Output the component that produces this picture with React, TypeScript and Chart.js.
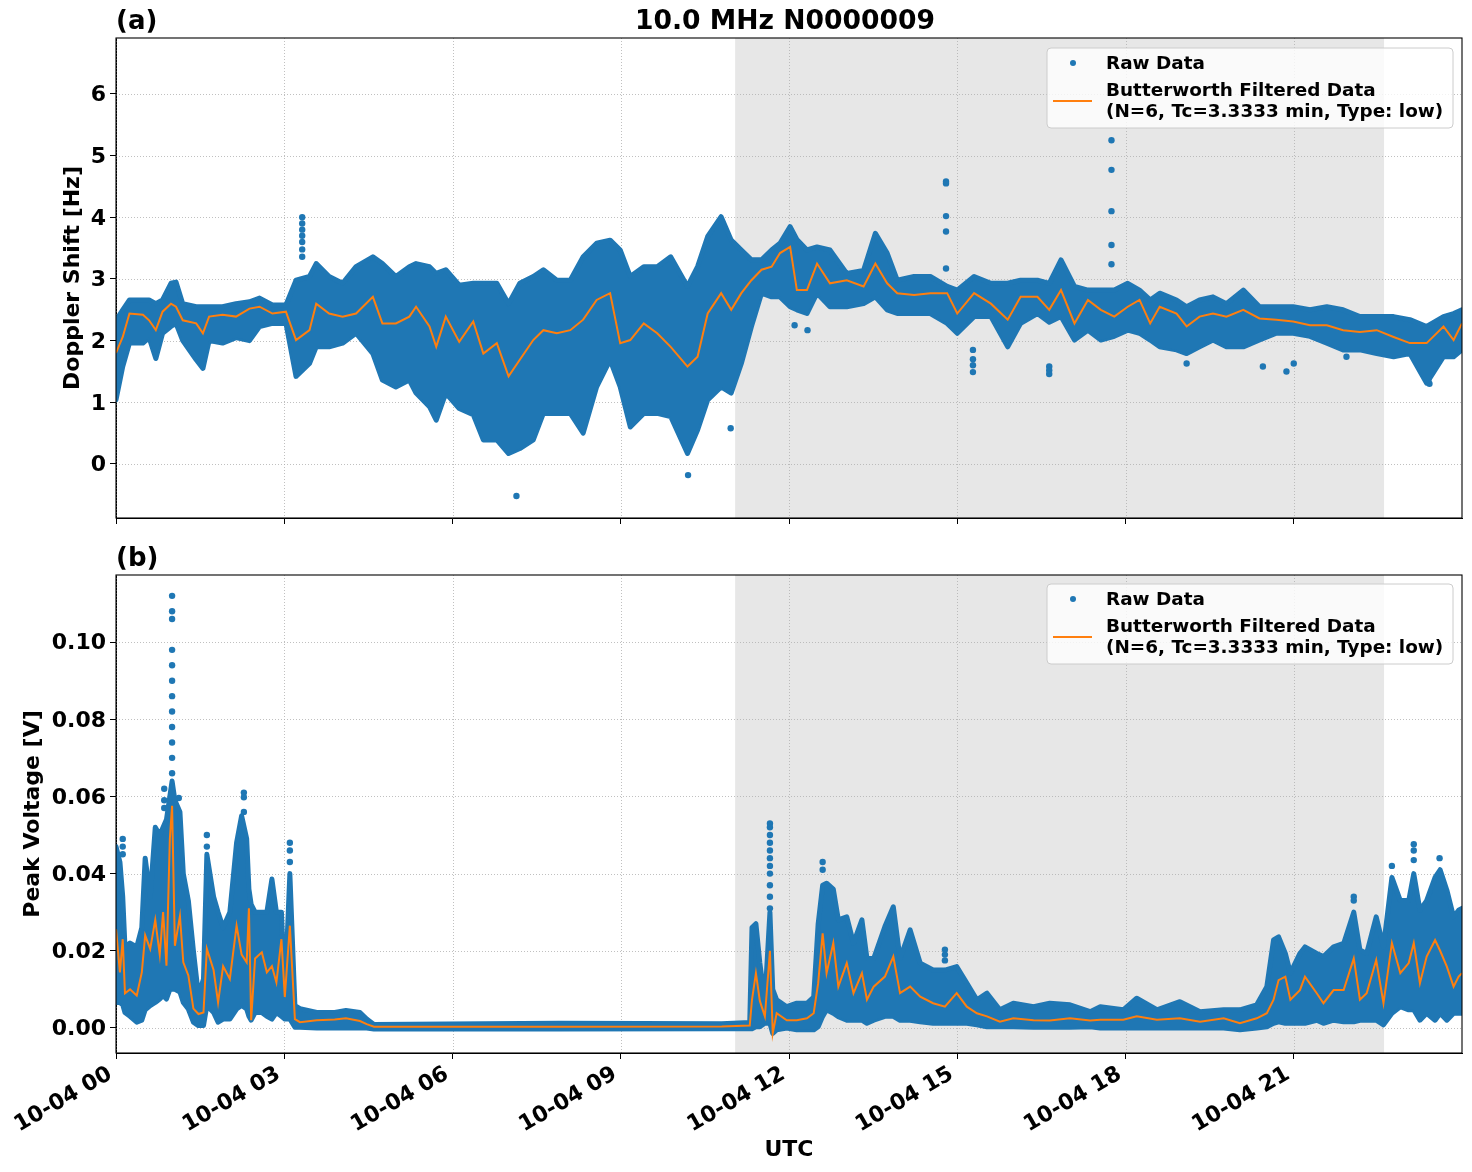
import React, { useEffect, useRef } from 'react';
import { Chart, registerables } from 'chart.js';

Chart.register(...registerables);

const FONT_FAMILY = '"DejaVu Sans", sans-serif';
const BLUE = '#1f77b4';
const ORANGE = '#ff7f0e';
const SHADE = '#e7e7e7';

// ---------- shared axis data ----------
const xTickHours = [0, 3, 6, 9, 12, 15, 18, 21];
const xTickLabels = ['10-04 00', '10-04 03', '10-04 06', '10-04 09', '10-04 12', '10-04 15', '10-04 18', '10-04 21'];
const daySpan = [11.04, 22.61];
const dopplerTicks = [0, 1, 2, 3, 4, 5, 6];
const voltageTicks = [0, 0.02, 0.04, 0.06, 0.08, 0.1];

// ---------- panel (a): Doppler shift [Hz] ----------
const dopplerHours = [
  0.00, 0.12, 0.24, 0.48, 0.59, 0.71, 0.83, 0.98, 1.07, 1.19,
  1.43, 1.55, 1.66, 1.90, 2.14, 2.38, 2.56, 2.79, 3.03, 3.21,
  3.45, 3.57, 3.80, 4.04, 4.28, 4.58, 4.75, 4.99, 5.23, 5.35,
  5.59, 5.71, 5.88, 6.12, 6.37, 6.55, 6.79, 7.00, 7.20, 7.44,
  7.62, 7.86, 8.10, 8.33, 8.57, 8.81, 8.99, 9.17, 9.41, 9.65,
  9.89, 10.19, 10.37, 10.55, 10.79, 10.97, 11.15, 11.33, 11.51, 11.69,
  11.84, 12.02, 12.14, 12.32, 12.50, 12.73, 13.03, 13.33, 13.54, 13.75,
  13.93, 14.23, 14.52, 14.82, 15.00, 15.30, 15.60, 15.90, 16.13, 16.43,
  16.64, 16.85, 17.09, 17.33, 17.56, 17.80, 18.04, 18.25, 18.44, 18.61,
  18.91, 19.09, 19.32, 19.56, 19.80, 20.10, 20.39, 20.69, 20.99, 21.29,
  21.59, 21.88, 22.18, 22.48, 22.78, 23.07, 23.37, 23.67, 23.85, 24.00,
];
const dopplerRawUpper = [
  2.33, 2.50, 2.66, 2.66, 2.66, 2.60, 2.66, 2.93, 2.95, 2.60,
  2.55, 2.55, 2.55, 2.55, 2.60, 2.63, 2.69, 2.58, 2.58, 2.98,
  3.04, 3.25, 3.04, 2.93, 3.20, 3.36, 3.25, 3.04, 3.20, 3.25,
  3.20, 3.09, 3.15, 2.90, 2.93, 2.93, 2.93, 2.60, 2.93, 3.04,
  3.15, 2.98, 2.98, 3.36, 3.58, 3.63, 3.47, 3.04, 3.20, 3.20,
  3.36, 2.88, 3.20, 3.69, 4.01, 3.63, 3.47, 3.31, 3.31, 3.47,
  3.58, 3.85, 3.64, 3.47, 3.52, 3.47, 3.09, 3.14, 3.74, 3.42,
  2.98, 3.04, 3.04, 2.88, 2.82, 3.04, 2.93, 2.93, 2.98, 2.98,
  2.93, 3.31, 2.88, 2.82, 2.82, 2.82, 2.93, 2.82, 2.66, 2.77,
  2.66, 2.55, 2.66, 2.71, 2.60, 2.82, 2.55, 2.55, 2.55, 2.50,
  2.55, 2.50, 2.39, 2.39, 2.39, 2.34, 2.23, 2.39, 2.44, 2.50,
];
const dopplerRawLower = [
  1.04, 1.58, 1.96, 1.96, 2.05, 1.71, 2.12, 2.23, 2.28, 2.00,
  1.69, 1.55, 2.00, 1.96, 2.05, 2.00, 2.23, 2.28, 2.28, 1.42,
  1.63, 1.90, 1.90, 1.96, 2.12, 1.79, 1.36, 1.25, 1.36, 1.15,
  0.93, 0.71, 1.15, 0.90, 0.80, 0.39, 0.39, 0.17, 0.25, 0.39,
  0.82, 0.82, 0.82, 0.50, 1.25, 1.69, 1.25, 0.60, 0.82, 0.82,
  0.77, 0.17, 0.55, 1.04, 1.25, 1.15, 1.63, 2.23, 2.77, 2.71,
  2.71, 2.55, 2.50, 2.44, 2.77, 2.55, 2.55, 2.60, 2.71, 2.50,
  2.44, 2.44, 2.44, 2.28, 2.12, 2.39, 2.39, 1.90, 2.28, 2.44,
  2.30, 2.39, 2.01, 2.17, 2.01, 2.07, 2.17, 2.12, 2.01, 1.90,
  1.85, 1.79, 1.90, 2.01, 1.90, 1.90, 2.01, 2.12, 2.12, 2.07,
  1.96, 1.85, 1.85, 1.79, 1.74, 1.79, 1.31, 1.74, 1.74, 1.85,
];
const dopplerFiltered = [
  1.80, 2.06, 2.44, 2.42, 2.33, 2.17, 2.47, 2.60, 2.55, 2.33,
  2.28, 2.12, 2.39, 2.42, 2.39, 2.52, 2.55, 2.44, 2.47, 2.01,
  2.17, 2.60, 2.44, 2.39, 2.44, 2.71, 2.28, 2.28, 2.39, 2.55,
  2.23, 1.90, 2.39, 1.98, 2.31, 1.79, 1.96, 1.42, 1.69, 2.01,
  2.17, 2.12, 2.17, 2.34, 2.66, 2.77, 1.96, 2.01, 2.28, 2.12,
  1.90, 1.58, 1.74, 2.44, 2.77, 2.50, 2.77, 2.98, 3.15, 3.20,
  3.42, 3.52, 2.82, 2.82, 3.25, 2.93, 2.98, 2.88, 3.25, 2.93,
  2.77, 2.74, 2.77, 2.77, 2.44, 2.77, 2.60, 2.34, 2.71, 2.71,
  2.50, 2.82, 2.28, 2.66, 2.50, 2.39, 2.55, 2.66, 2.28, 2.55,
  2.44, 2.23, 2.39, 2.44, 2.39, 2.50, 2.36, 2.34, 2.31, 2.25,
  2.25, 2.17, 2.14, 2.17, 2.06, 1.96, 1.96, 2.23, 2.01, 2.28,
];
const dopplerOutlierHours = [
  3.32, 3.32, 3.32, 3.32, 3.32, 3.32, 3.32,
  14.80, 14.80, 14.80, 14.80, 14.80,
  17.75, 17.75, 17.75, 17.75, 17.75,
  7.14, 10.20, 10.96,
  15.28, 15.28, 15.28, 15.28,
  16.64, 16.64, 16.64,
  12.10, 12.33, 11.27,
  19.09, 20.45, 20.87, 21.00, 21.94, 23.40, 23.42,
];
const dopplerOutlierValues = [
  4.00, 3.90, 3.80, 3.70, 3.60, 3.48, 3.36,
  4.58, 4.55, 4.02, 3.77, 3.17,
  5.25, 4.77, 4.10, 3.55, 3.24,
  -0.52, -0.18, 0.58,
  1.85, 1.70, 1.60, 1.49,
  1.58, 1.52, 1.46,
  2.25, 2.17, 2.25,
  1.63, 1.58, 1.50, 1.63, 1.74, 1.36, 1.30,
];

// ---------- panel (b): Peak voltage [V] ----------
const voltageHours = [
  0.00, 0.07, 0.12, 0.16, 0.25, 0.37, 0.46, 0.52, 0.61, 0.70,
  0.78, 0.84, 0.90, 0.96, 1.00, 1.05, 1.14, 1.20, 1.29, 1.38,
  1.47, 1.56, 1.62, 1.74, 1.82, 1.91, 2.03, 2.15, 2.24, 2.33,
  2.37, 2.41, 2.48, 2.60, 2.69, 2.78, 2.86, 2.95, 3.01, 3.10,
  3.19, 3.28, 3.58, 3.90, 4.10, 4.35, 4.47, 4.60, 7.90, 10.80,
  11.30, 11.34, 11.41, 11.48, 11.57, 11.66, 11.71, 11.78, 11.96, 12.14,
  12.32, 12.44, 12.52, 12.60, 12.67, 12.79, 12.88, 13.03, 13.15, 13.30,
  13.39, 13.51, 13.71, 13.86, 13.98, 14.16, 14.34, 14.57, 14.78, 14.99,
  15.17, 15.35, 15.53, 15.76, 16.00, 16.36, 16.65, 17.01, 17.37, 17.55,
  17.96, 18.20, 18.56, 18.97, 19.33, 19.75, 20.04, 20.34, 20.52, 20.64,
  20.73, 20.85, 20.94, 21.11, 21.20, 21.41, 21.53, 21.71, 21.89, 22.07,
  22.18, 22.30, 22.47, 22.60, 22.75, 22.90, 23.05, 23.14, 23.25, 23.37,
  23.52, 23.61, 23.73, 23.85, 23.94, 24.00,
];
const voltageRawUpper = [
  0.047, 0.043, 0.034, 0.021, 0.022, 0.021, 0.026, 0.044, 0.034, 0.052,
  0.050, 0.052, 0.054, 0.060, 0.064, 0.059, 0.056, 0.040, 0.033, 0.020,
  0.0084, 0.0127, 0.045, 0.034, 0.030, 0.026, 0.030, 0.048, 0.055, 0.049,
  0.036, 0.032, 0.030, 0.030, 0.030, 0.0386, 0.030, 0.030, 0.0084, 0.040,
  0.0058, 0.005, 0.004, 0.004, 0.0045, 0.004, 0.0023, 0.0009, 0.0012, 0.0011,
  0.0014, 0.026, 0.027, 0.0168, 0.007, 0.030, 0.010, 0.0073, 0.0055, 0.0064,
  0.0064, 0.008, 0.027, 0.037, 0.0375, 0.036, 0.028, 0.0288, 0.022, 0.028,
  0.018, 0.018, 0.0263, 0.0314, 0.018, 0.0254, 0.0168, 0.015, 0.015, 0.0159,
  0.0116, 0.0073, 0.009, 0.0047, 0.0064, 0.0055, 0.0064, 0.006, 0.0042, 0.0055,
  0.0047, 0.0077, 0.0047, 0.0068, 0.0042, 0.0047, 0.0047, 0.006, 0.0107, 0.0228,
  0.0236, 0.0193, 0.0142, 0.0193, 0.021, 0.0193, 0.0185, 0.021, 0.0219, 0.030,
  0.0202, 0.0193, 0.0288, 0.021, 0.039, 0.033, 0.033, 0.040, 0.0305, 0.033,
  0.039, 0.041, 0.0357, 0.0288, 0.0305, 0.031,
];
const voltageRawLower = [
  0.0066, 0.0066, 0.006, 0.004, 0.003, 0.0015, 0.002, 0.0047, 0.0058, 0.0066,
  0.0075, 0.0084, 0.0075, 0.010, 0.010, 0.010, 0.0093, 0.0066, 0.0049, 0.0015,
  0.0006, 0.0006, 0.0058, 0.004, 0.0015, 0.0023, 0.0023, 0.0049, 0.0058, 0.0049,
  0.003, 0.002, 0.004, 0.004, 0.003, 0.0023, 0.004, 0.003, 0.0023, 0.0023,
  0.0002, 0.0002, 0.0, 0.0, 0.0, 0.0, 0.0, -0.0003, -0.0003, -0.0002,
  -0.0002, -0.0002, 0.0003, 0.0003, 0.0012, 0.0012, -0.0014, -0.0005, 0.0, -0.0005,
  -0.0005, -0.0005, 0.0003, 0.003, 0.0047, 0.0038, 0.0029, 0.002, 0.002, 0.002,
  0.0012, 0.002, 0.003, 0.003, 0.002, 0.002, 0.0016, 0.0012, 0.0012, 0.0012,
  0.0012, 0.0008, 0.0003, 0.0003, 0.0003, 0.0002, 0.0002, 0.0002, 0.0003, 0.0,
  0.0, 0.0, 0.0, 0.0, 0.0, 0.0, -0.0005, 0.0, 0.0003, 0.0012,
  0.0016, 0.0012, 0.0012, 0.0012, 0.0012, 0.002, 0.0012, 0.002, 0.0016, 0.0016,
  0.002, 0.002, 0.002, 0.0008, 0.0038, 0.0055, 0.0047, 0.0047, 0.002, 0.0038,
  0.002, 0.0038, 0.002, 0.0038, 0.0038, 0.0038,
];
const voltageFiltered = [
  0.0256, 0.0144, 0.023, 0.009, 0.010, 0.0084, 0.0144, 0.024, 0.0205, 0.028,
  0.019, 0.030, 0.0161, 0.049, 0.0576, 0.0213, 0.029, 0.017, 0.0136, 0.005,
  0.0036, 0.004, 0.0205, 0.015, 0.0066, 0.016, 0.0127, 0.0265, 0.019, 0.017,
  0.031, 0.002, 0.018, 0.0196, 0.0144, 0.016, 0.0118, 0.023, 0.008, 0.0265,
  0.0023, 0.0015, 0.002, 0.0022, 0.0025, 0.0018, 0.001, 0.0003, 0.0003, 0.0004,
  0.0006, 0.0073, 0.0142, 0.007, 0.003, 0.020, -0.0014, 0.0038, 0.002, 0.002,
  0.0025, 0.0038, 0.0116, 0.0245, 0.0142, 0.022, 0.0107, 0.0168, 0.009, 0.0142,
  0.0073, 0.0107, 0.0133, 0.0185, 0.009, 0.0107, 0.0081, 0.0064, 0.0055, 0.009,
  0.0055, 0.0038, 0.003, 0.0016, 0.0025, 0.002, 0.0019, 0.0025, 0.0019, 0.0021,
  0.0021, 0.003, 0.0021, 0.0025, 0.0016, 0.0025, 0.0012, 0.0025, 0.0038, 0.0073,
  0.0124, 0.0133, 0.0073, 0.0098, 0.0133, 0.009, 0.0064, 0.0098, 0.0098, 0.018,
  0.0073, 0.009, 0.0176, 0.0064, 0.022, 0.0142, 0.0168, 0.022, 0.0116, 0.0185,
  0.0228, 0.020, 0.0159, 0.0107, 0.0133, 0.0142,
];
const voltageOutlierHours = [
  1.00, 1.00, 1.00, 1.00, 1.00, 1.00, 1.00, 1.00, 1.00, 1.00, 1.00, 1.00,
  0.86, 0.86, 0.86, 1.12,
  1.62, 1.62,
  2.28, 2.28, 2.28,
  3.10, 3.10, 3.10,
  11.66, 11.66, 11.66, 11.66, 11.66, 11.66, 11.66, 11.66, 11.66, 11.66, 11.66,
  12.60, 12.60,
  14.78, 14.78, 14.78,
  23.14, 23.14, 23.14,
  22.07, 22.07,
  0.12, 0.12, 0.12,
  22.75, 23.60,
];
const voltageOutlierValues = [
  0.112, 0.108, 0.106, 0.098, 0.094, 0.090, 0.086, 0.082, 0.078, 0.074, 0.070, 0.066,
  0.062, 0.059, 0.057, 0.0596,
  0.050, 0.047,
  0.061, 0.0598, 0.056,
  0.048, 0.046, 0.043,
  0.053, 0.052, 0.050, 0.048, 0.046, 0.044, 0.042, 0.040, 0.037, 0.034, 0.031,
  0.043, 0.041,
  0.0203, 0.019, 0.0175,
  0.0476, 0.046, 0.0435,
  0.034, 0.033,
  0.049, 0.047, 0.045,
  0.042, 0.044,
];

const legendRawLabel = 'Raw Data';
const legendFilteredLines = ['Butterworth Filtered Data', '(N=6, Tc=3.3333 min, Type: low)'];
const chartTitle = '10.0 MHz N0000009';

type PanelSpec = {
  canvasTop: number;
  canvasHeight: number;
  area: { left: number; top: number; right: number; bottom: number };
  yMin: number;
  yMax: number;
  yTicks: number[];
  yFmt: (v: number) => string;
  hours: number[];
  upper: number[];
  lower: number[];
  filtered: number[];
  outHours: number[];
  outValues: number[];
  letter: string;
  letterBaseline: number;
  yLabel: string;
  yLabelX: number;
  legendTop: number;
  showXLabels: boolean;
  title?: string;
  xLabel?: string;
  xLabelY?: number;
};

const WIDTH = 1472;
const TICK_FONT_SIZE = 22;

function makeChart(canvas: HTMLCanvasElement, p: PanelSpec) {
  const toXY = (xs: number[], ys: number[]) => xs.map((x, i) => ({ x, y: ys[i] }));
  const bold = (size: number) => `bold ${size}px ${FONT_FAMILY}`;

  const decor = {
    id: 'panelDecor',
    beforeDatasetsDraw(chart: any) {
      const { ctx, chartArea: a, scales } = chart;
      const xs = scales.x;
      const ys = scales.y;
      ctx.save();
      ctx.beginPath();
      ctx.rect(a.left, a.top, a.right - a.left, a.bottom - a.top);
      ctx.clip();
      const x0 = xs.getPixelForValue(daySpan[0]);
      const x1 = xs.getPixelForValue(daySpan[1]);
      ctx.fillStyle = SHADE;
      ctx.fillRect(x0, a.top, x1 - x0, a.bottom - a.top);
      ctx.strokeStyle = '#b0b0b0';
      ctx.lineWidth = 0.8;
      ctx.setLineDash([1, 2]);
      xTickHours.forEach((h) => {
        const x = Math.round(xs.getPixelForValue(h)) + 0.5;
        ctx.beginPath();
        ctx.moveTo(x, a.top);
        ctx.lineTo(x, a.bottom);
        ctx.stroke();
      });
      p.yTicks.forEach((v) => {
        const y = Math.round(ys.getPixelForValue(v)) + 0.5;
        ctx.beginPath();
        ctx.moveTo(a.left, y);
        ctx.lineTo(a.right, y);
        ctx.stroke();
      });
      ctx.restore();
    },
    afterDraw(chart: any) {
      const { ctx, chartArea: a, scales } = chart;
      ctx.save();
      // frame
      ctx.strokeStyle = '#000';
      ctx.lineWidth = 1.1;
      ctx.setLineDash([]);
      ctx.strokeRect(a.left, a.top, a.right - a.left, a.bottom - a.top);

      // rotated x tick labels (matplotlib style: bbox top-right at the tick)
      if (p.showXLabels) {
        ctx.font = bold(TICK_FONT_SIZE);
        ctx.fillStyle = '#000';
        ctx.textAlign = 'right';
        ctx.textBaseline = 'alphabetic';
        const ang = Math.PI / 6;
        xTickHours.forEach((h, i) => {
          const tx = scales.x.getPixelForValue(h);
          ctx.save();
          ctx.translate(tx - 0.5 * TICK_FONT_SIZE, a.bottom + 10);
          ctx.rotate(-ang);
          ctx.fillText(xTickLabels[i], 0, 0.76 * TICK_FONT_SIZE);
          ctx.restore();
        });
      }

      // legend
      const lx = a.right - 415;
      const ly = p.legendTop;
      const lw = 406;
      const lh = 80;
      ctx.beginPath();
      ctx.roundRect(lx, ly, lw, lh, 4);
      ctx.fillStyle = 'rgba(255,255,255,0.8)';
      ctx.fill();
      ctx.strokeStyle = '#cccccc';
      ctx.lineWidth = 1;
      ctx.stroke();
      ctx.fillStyle = BLUE;
      ctx.beginPath();
      ctx.arc(lx + 26, ly + 15, 3, 0, Math.PI * 2);
      ctx.fill();
      ctx.strokeStyle = ORANGE;
      ctx.lineWidth = 2;
      ctx.beginPath();
      ctx.moveTo(lx + 6, ly + 53);
      ctx.lineTo(lx + 45, ly + 53);
      ctx.stroke();
      ctx.fillStyle = '#000';
      ctx.font = bold(18.4);
      ctx.textAlign = 'left';
      ctx.textBaseline = 'middle';
      ctx.fillText(legendRawLabel, lx + 59, ly + 16);
      ctx.fillText(legendFilteredLines[0], lx + 59, ly + 43);
      ctx.fillText(legendFilteredLines[1], lx + 59, ly + 64);

      // panel letter and title
      ctx.textBaseline = 'alphabetic';
      ctx.font = bold(26);
      ctx.textAlign = 'left';
      ctx.fillText(p.letter, a.left, p.letterBaseline);
      if (p.title) {
        ctx.font = bold(26.6);
        ctx.textAlign = 'center';
        ctx.fillText(p.title, (a.left + a.right) / 2 - 4, p.letterBaseline);
      }
      // axis labels
      ctx.font = bold(22);
      ctx.textAlign = 'center';
      ctx.textBaseline = 'middle';
      ctx.save();
      ctx.translate(p.yLabelX, (a.top + a.bottom) / 2);
      ctx.rotate(-Math.PI / 2);
      ctx.fillText(p.yLabel, 0, 0);
      ctx.restore();
      if (p.xLabel && p.xLabelY) {
        ctx.fillText(p.xLabel, (a.left + a.right) / 2, p.xLabelY);
      }
      ctx.restore();
    },
  };

  const tickFont = { family: FONT_FAMILY, size: TICK_FONT_SIZE, weight: 'bold' as const };

  return new Chart(canvas, {
    type: 'line',
    data: {
      datasets: [
        {
          label: 'filtered',
          data: toXY(p.hours, p.filtered),
          borderColor: ORANGE,
          borderWidth: 2,
          pointRadius: 0,
          fill: false,
          tension: 0,
          order: 0,
          clip: 0,
        } as any,
        {
          label: 'rawUpper',
          data: toXY(p.hours, p.upper),
          borderColor: BLUE,
          backgroundColor: BLUE,
          borderWidth: 5,
          borderJoinStyle: 'round',
          borderCapStyle: 'round',
          pointRadius: 0,
          fill: '+1',
          tension: 0,
          order: 1,
          clip: 0,
        } as any,
        {
          label: 'rawLower',
          data: toXY(p.hours, p.lower),
          borderColor: BLUE,
          backgroundColor: BLUE,
          borderWidth: 5,
          borderJoinStyle: 'round',
          borderCapStyle: 'round',
          pointRadius: 0,
          fill: false,
          tension: 0,
          order: 1,
          clip: 0,
        } as any,
        {
          type: 'scatter',
          label: 'rawOutliers',
          data: toXY(p.outHours, p.outValues),
          backgroundColor: BLUE,
          borderWidth: 0,
          pointRadius: 3.2,
          showLine: false,
          order: 2,
          clip: 0,
        } as any,
      ],
    },
    options: {
      animation: false,
      responsive: false,
      devicePixelRatio: 1,
      events: [],
      layout: { padding: { top: p.area.top, right: WIDTH - p.area.right, left: 0, bottom: 0 } },
      plugins: { legend: { display: false }, tooltip: { enabled: false }, title: { display: false } },
      scales: {
        x: {
          type: 'linear',
          min: 0,
          max: 24,
          afterFit: (s: any) => {
            s.height = p.canvasHeight - p.area.bottom;
          },
          afterBuildTicks: (s: any) => {
            s.ticks = xTickHours.map((v) => ({ value: v }));
          },
          grid: {
            display: true,
            drawOnChartArea: false,
            drawTicks: true,
            tickLength: 6,
            tickColor: '#000',
            tickWidth: 1,
          },
          border: { display: true, color: '#000', width: 1 },
          ticks: { display: false },
        },
        y: {
          type: 'linear',
          min: p.yMin,
          max: p.yMax,
          afterFit: (s: any) => {
            s.width = p.area.left;
          },
          afterBuildTicks: (s: any) => {
            s.ticks = p.yTicks.map((v) => ({ value: v }));
          },
          grid: {
            display: true,
            drawOnChartArea: false,
            drawTicks: true,
            tickLength: 6,
            tickColor: '#000',
            tickWidth: 1,
          },
          border: { display: true, color: '#000', width: 1 },
          ticks: {
            padding: 4,
            labelOffset: 1.5,
            color: '#000',
            font: tickFont,
            callback: (v: any) => p.yFmt(Number(v)),
          },
        },
      },
    },
    plugins: [decor],
  } as any);
}

const TOP_H = 545;
const BOTTOM_H = 1172 - TOP_H;

const panelA: PanelSpec = {
  canvasTop: 0,
  canvasHeight: TOP_H,
  area: { left: 116, top: 38, right: 1462, bottom: 518 },
  yMin: -0.876,
  yMax: 6.908,
  yTicks: dopplerTicks,
  yFmt: (v) => String(Math.round(v)),
  hours: dopplerHours,
  upper: dopplerRawUpper,
  lower: dopplerRawLower,
  filtered: dopplerFiltered,
  outHours: dopplerOutlierHours,
  outValues: dopplerOutlierValues,
  letter: '(a)',
  letterBaseline: 29,
  yLabel: 'Doppler Shift [Hz]',
  yLabelX: 73,
  legendTop: 48,
  showXLabels: false,
  title: chartTitle,
};

const panelB: PanelSpec = {
  canvasTop: TOP_H,
  canvasHeight: BOTTOM_H,
  area: { left: 116, top: 575 - TOP_H, right: 1462, bottom: 1053 - TOP_H },
  yMin: -0.0065,
  yMax: 0.1174,
  yTicks: voltageTicks,
  yFmt: (v) => v.toFixed(2),
  hours: voltageHours,
  upper: voltageRawUpper,
  lower: voltageRawLower,
  filtered: voltageFiltered,
  outHours: voltageOutlierHours,
  outValues: voltageOutlierValues,
  letter: '(b)',
  letterBaseline: 566 - TOP_H,
  yLabel: 'Peak Voltage [V]',
  yLabelX: 33,
  legendTop: 584 - TOP_H,
  showXLabels: true,
  xLabel: 'UTC',
  xLabelY: 1150 - TOP_H,
};

function Panel({ spec }: { spec: PanelSpec }) {
  const ref = useRef<HTMLCanvasElement | null>(null);
  useEffect(() => {
    if (!ref.current) return;
    const chart = makeChart(ref.current, spec);
    return () => chart.destroy();
  }, [spec]);
  return (
    <canvas
      ref={ref}
      width={WIDTH}
      height={spec.canvasHeight}
      style={{ position: 'absolute', left: 0, top: spec.canvasTop, width: WIDTH, height: spec.canvasHeight, display: 'block' }}
    />
  );
}

export default function App() {
  return (
    <div style={{ position: 'absolute', left: 0, top: 0, width: WIDTH, height: 1172, background: '#fff', overflow: 'hidden' }}>
      <Panel spec={panelA} />
      <Panel spec={panelB} />
    </div>
  );
}
